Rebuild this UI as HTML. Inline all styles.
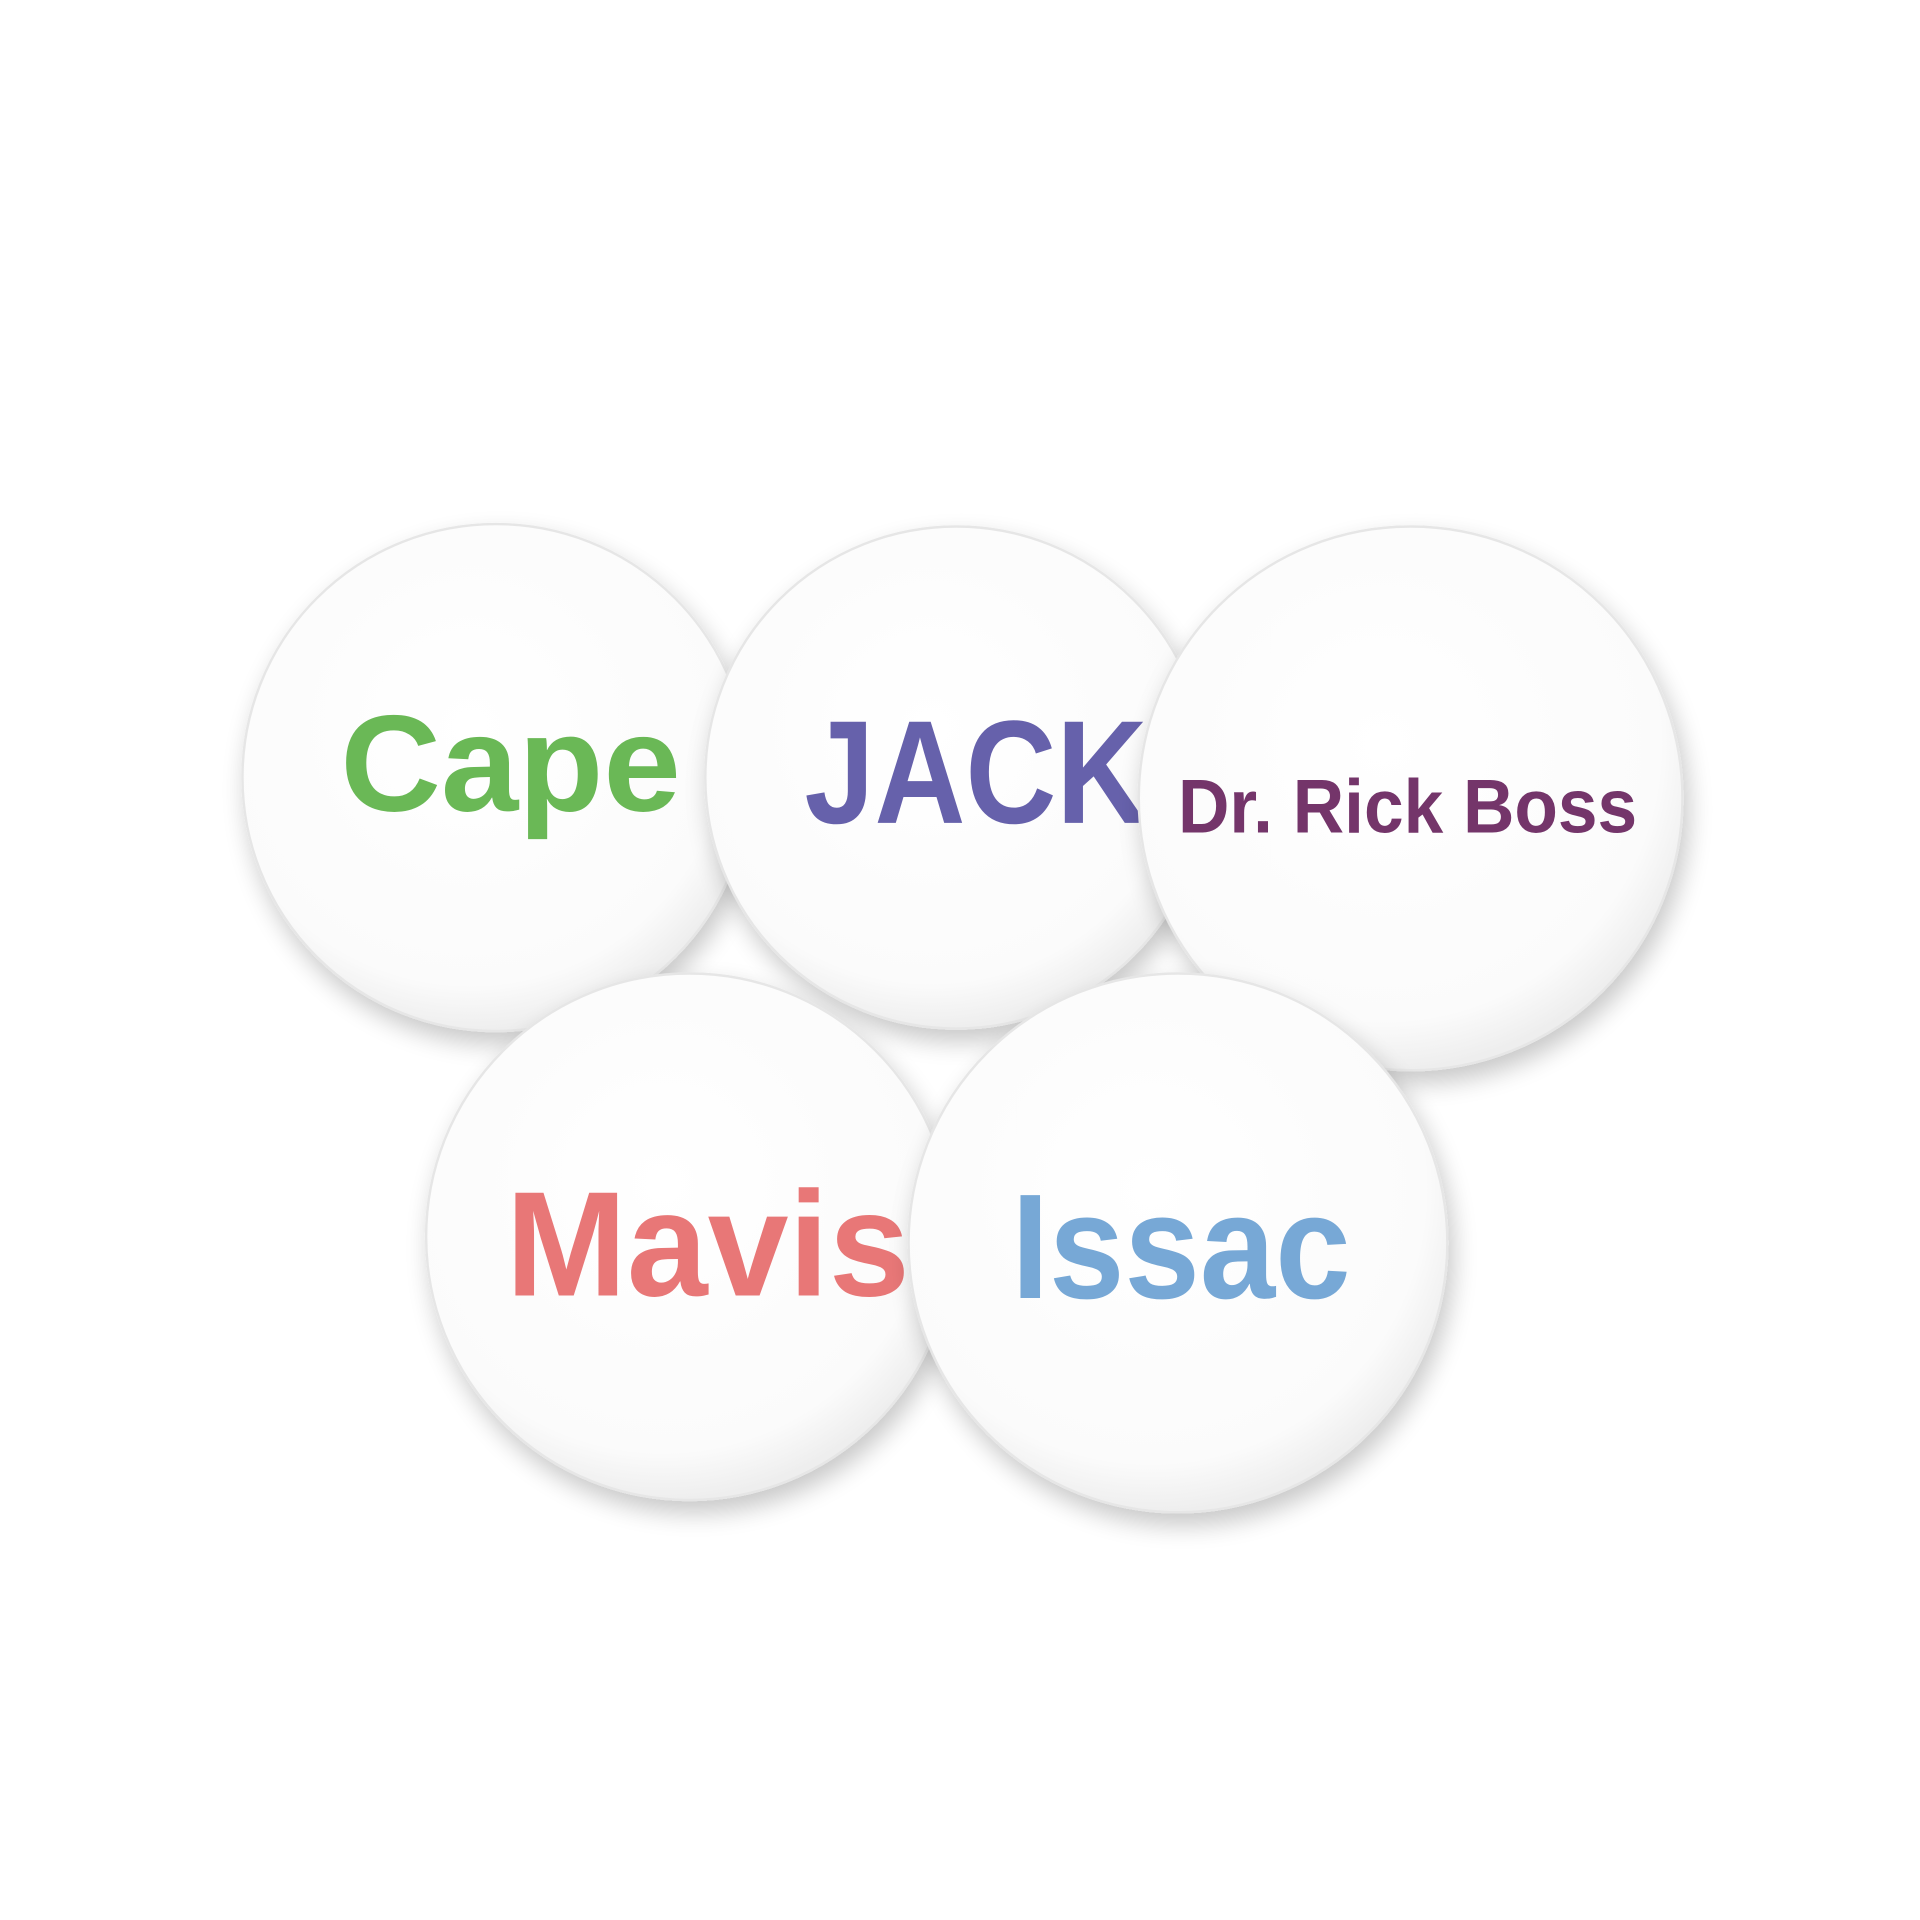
<!DOCTYPE html>
<html><head><meta charset="utf-8"><style>html,body{margin:0;padding:0;background:#fff}svg{display:block}</style></head>
<body>
<svg width="1920" height="1920" viewBox="0 0 1568 1568" xmlns="http://www.w3.org/2000/svg">
<defs>
<filter id="sh" x="-30%" y="-30%" width="160%" height="160%">
<feGaussianBlur in="SourceAlpha" stdDeviation="10"/>
<feOffset dx="4" dy="10" result="b"/>
<feComponentTransfer><feFuncA type="linear" slope="0.22"/></feComponentTransfer>
<feMerge><feMergeNode/><feMergeNode in="SourceGraphic"/></feMerge>
</filter>
<radialGradient id="g" cx="0.45" cy="0.4" r="0.6">
<stop offset="0" stop-color="#ffffff"/><stop offset="0.85" stop-color="#fbfbfb"/><stop offset="1" stop-color="#eeeeee"/>
</radialGradient>
</defs>
<g font-family="'Liberation Sans',sans-serif" font-weight="bold">
<g filter="url(#sh)"><circle cx="405" cy="635" r="207" fill="url(#g)" stroke="#e6e6e6" stroke-width="2"/></g>
<text x="278" y="662" font-size="112" fill="#6ab856" textLength="278" lengthAdjust="spacingAndGlyphs">Cape</text>
<g filter="url(#sh)"><circle cx="781" cy="635" r="205" fill="url(#g)" stroke="#e6e6e6" stroke-width="2"/></g>
<text x="657" y="672" font-size="120" fill="#6661ab" textLength="280" lengthAdjust="spacingAndGlyphs">JACK</text>
<g filter="url(#sh)"><circle cx="1152" cy="652" r="222" fill="url(#g)" stroke="#e6e6e6" stroke-width="2"/></g>
<text x="962" y="680" font-size="62" fill="#74356a" textLength="375" lengthAdjust="spacingAndGlyphs">Dr. Rick Boss</text>
<g filter="url(#sh)"><circle cx="563" cy="1010" r="215" fill="url(#g)" stroke="#e6e6e6" stroke-width="2"/></g>
<text x="413" y="1058" font-size="122" fill="#e87777" textLength="330" lengthAdjust="spacingAndGlyphs">Mavis</text>
<g filter="url(#sh)"><circle cx="962" cy="1015" r="220" fill="url(#g)" stroke="#e6e6e6" stroke-width="2"/></g>
<text x="826" y="1060" font-size="122" fill="#77a8d6" textLength="277" lengthAdjust="spacingAndGlyphs">Issac</text>
</g>
</svg>
</body></html>
